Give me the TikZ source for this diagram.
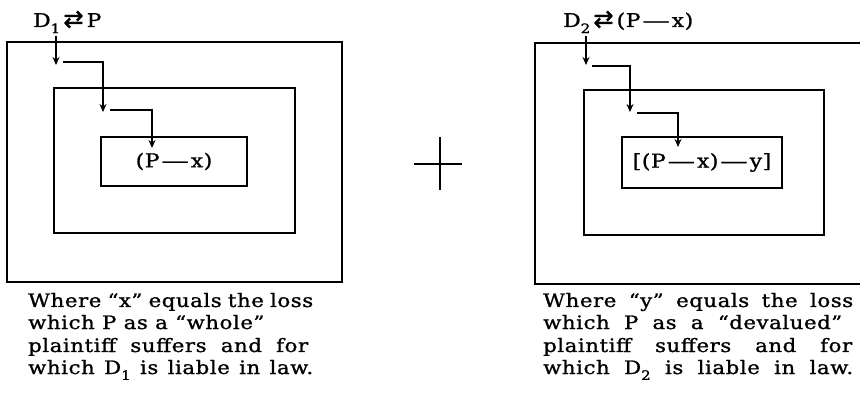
\documentclass[tikz,border=0pt]{standalone}
\usepackage{fontspec}
\setmainfont{DejaVu Serif}[FakeStretch=1.15,LetterSpace=3,FakeBold=1.2]
\newfontfamily\arrowfont{DejaVu Sans}[FakeBold=1.2]
\usetikzlibrary{arrows.meta}
\newcommand\lowsub[1]{\raisebox{-0.32em}{\fontsize{13}{13}\selectfont #1}}
\newcommand\longdash{\hspace{2pt}\scalebox{1.25}[1]{—}\hspace{2pt}}
\newcommand\revarrow{{\arrowfont\fontsize{24}{24}\selectfont ⇄}}
\begin{document}
\begin{tikzpicture}[x=1pt,y=-1pt,
  boxframe/.style={draw, line width=1.6pt, inner sep=0pt},
  boxtext/.style={font=\fontsize{19}{20}\selectfont},
  lbl/.style={font=\fontsize{19}{20}\selectfont, inner sep=0pt, anchor=base west},
  captext/.style={font=\fontsize{18.5}{22}\selectfont, inner sep=0pt, anchor=base west},
  conn/.style={line width=1.5pt, -{Stealth[length=8pt,width=7pt]}},
  plusline/.style={line width=1.5pt}]
\useasboundingbox (0,0) rectangle (860,398);

% left panel
\node[boxframe, minimum width=335pt, minimum height=240pt] (Lout) at (174.5,162) {};
\node[boxframe, minimum width=241pt, minimum height=145pt] (Lmid) at (174.5,160.5) {};
\node[boxframe, boxtext, minimum width=146pt, minimum height=49pt] (Lin) at (174,161.5) {(P\longdash x)};
\node[lbl] (Dl) at (33,27) {D\lowsub{1}\,\revarrow\,P};

\coordinate (a0) at (56,36);  \coordinate (a1) at (56,65);
\coordinate (a2) at (63,62);  \coordinate (a3) at (103,112);
\coordinate (a4) at (110,110); \coordinate (a5) at (152,148);
\draw[conn] (a0) -- (a1);
\draw[conn] (a2) -| (a3);
\draw[conn] (a4) -| (a5);

% plus sign
\coordinate (p1) at (440,137); \coordinate (p2) at (440,190);
\coordinate (p3) at (414,164); \coordinate (p4) at (462,164);
\draw[plusline] (p1) -- (p2) (p3) -- (p4);

% right panel
\node[boxframe, minimum width=335pt, minimum height=241pt] (Rout) at (702.5,163.5) {};
\node[boxframe, minimum width=240pt, minimum height=145pt] (Rmid) at (704,162.5) {};
\node[boxframe, boxtext, minimum width=160pt, minimum height=51pt] (Rin) at (702,162.5) {[(P\longdash x)\longdash y]};
\node[lbl] (Dr) at (563,27) {D\lowsub{2}\,\revarrow\,(P\longdash x)};

\coordinate (b0) at (586,36);  \coordinate (b1) at (586,65);
\coordinate (b2) at (592,66);  \coordinate (b3) at (630,112);
\coordinate (b4) at (637,113); \coordinate (b5) at (678,147);
\draw[conn] (b0) -- (b1);
\draw[conn] (b2) -| (b3);
\draw[conn] (b4) -| (b5);

% captions
\node[captext] (l1) at (28,307) {\makebox[285pt][s]{Where “x” equals the loss}};
\node[captext] (l2) at (28,329) {which P as a “whole”};
\node[captext] (l3) at (28,352) {\makebox[280pt][s]{plaintiff suffers and for}};
\node[captext] (l4) at (28,374) {\makebox[285pt][s]{which D\lowsub{1} is liable in law.}};

\node[captext] (r1) at (543,307) {\makebox[310pt][s]{Where “y” equals the loss}};
\node[captext] (r2) at (543,329) {\makebox[299pt][s]{which P as a “devalued”}};
\node[captext] (r3) at (543,352) {\makebox[309pt][s]{plaintiff suffers and for}};
\node[captext] (r4) at (543,374) {\makebox[310pt][s]{which D\lowsub{2} is liable in law.}};
\end{tikzpicture}
\end{document}
